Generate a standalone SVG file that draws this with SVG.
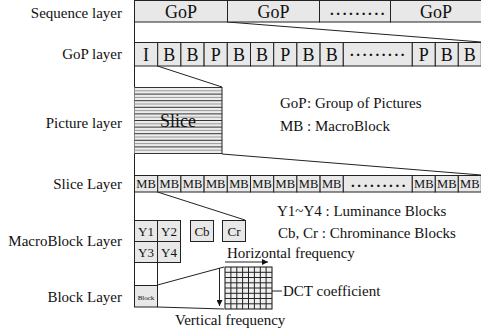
<svg xmlns="http://www.w3.org/2000/svg" width="481" height="336" viewBox="0 0 481 336">
<style>
text{font-family:"Liberation Serif","Times New Roman",serif;fill:#111}
.lbl{font-size:15px;text-anchor:end}
.leg{font-size:15px}
.cell{fill:#e8e8e8;stroke:#222;stroke-width:1}
.c{text-anchor:middle}
.ln{stroke:#222;stroke-width:1;fill:none}
.big{font-size:18px}
.g{font-size:18px}
.mb{font-size:12.5px}
.y{font-size:13px}
.dots{font-size:15px;font-weight:bold;letter-spacing:2.6px}
.stripe{stroke:#333;stroke-width:1}
.stripe2{stroke:#999;stroke-width:1}
</style>
<defs>
<marker id="ah" viewBox="0 0 6 6" refX="6" refY="3" markerWidth="6" markerHeight="6" orient="auto" markerUnits="userSpaceOnUse">
<path d="M0,0 L6,3 L0,6 z" fill="#111"/>
</marker>
</defs>

<g id="labels">
<text class="lbl" x="122" y="18">Sequence layer</text>
<text class="lbl" x="122" y="59">GoP layer</text>
<text class="lbl" x="122" y="128">Picture layer</text>
<text class="lbl" x="122" y="189">Slice Layer</text>
<text class="lbl" x="122" y="246">MacroBlock Layer</text>
<text class="lbl" x="122" y="302">Block Layer</text>
</g>

<g id="connectors">
<line class="ln" x1="134.5" y1="22" x2="134.5" y2="285"/>
<line class="ln" x1="227.5" y1="22" x2="481" y2="42"/>
<line class="ln" x1="157.5" y1="66" x2="222" y2="87"/>
<line class="ln" x1="222" y1="154" x2="481" y2="175"/>
<line class="ln" x1="157.5" y1="192" x2="245" y2="220"/>
<line class="ln" x1="157.5" y1="262" x2="157.5" y2="285"/>
<line class="ln" x1="157.5" y1="285" x2="224" y2="267"/>
<line class="ln" x1="157.5" y1="307" x2="224" y2="309"/>
<line class="ln" x1="225" y1="262" x2="268" y2="262" marker-end="url(#ah)"/>
<line class="ln" x1="219.5" y1="268" x2="219.5" y2="306" marker-end="url(#ah)"/>
<line class="ln" x1="257" y1="291" x2="282" y2="291"/>
<rect x="255.5" y="289.5" width="3" height="3" fill="#111"/>
</g>

<g id="sequence-layer">
<rect class="cell" x="134.5" y="0.5" width="93" height="21.5"/>
<rect class="cell" x="227.5" y="0.5" width="92" height="21.5"/>
<rect class="cell" x="319.5" y="0.5" width="71" height="21.5"/>
<rect class="cell" x="390.5" y="0.5" width="91" height="21.5"/>
<text class="big c" x="181" y="18">GoP</text>
<text class="big c" x="273.5" y="18">GoP</text>
<text class="dots" x="330" y="15">.........</text>
<text class="big c" x="436" y="18">GoP</text>
</g>

<g id="gop-layer">
<rect class="cell" x="134.5" y="42.5" width="23.2" height="23.5"/>
<rect class="cell" x="157.7" y="42.5" width="23.2" height="23.5"/>
<rect class="cell" x="180.9" y="42.5" width="23.2" height="23.5"/>
<rect class="cell" x="204.1" y="42.5" width="23.2" height="23.5"/>
<rect class="cell" x="227.3" y="42.5" width="23.2" height="23.5"/>
<rect class="cell" x="250.5" y="42.5" width="23.2" height="23.5"/>
<rect class="cell" x="273.7" y="42.5" width="23.2" height="23.5"/>
<rect class="cell" x="296.9" y="42.5" width="23.2" height="23.5"/>
<rect class="cell" x="320.1" y="42.5" width="23.2" height="23.5"/>
<rect class="cell" x="343.3" y="42.5" width="69" height="23.5"/>
<rect class="cell" x="412.3" y="42.5" width="23" height="23.5"/>
<rect class="cell" x="435.3" y="42.5" width="23" height="23.5"/>
<rect class="cell" x="458.3" y="42.5" width="23" height="23.5"/>
<g class="g c">
<text x="146.1" y="60.5">I</text>
<text x="169.3" y="60.5">B</text>
<text x="192.5" y="60.5">B</text>
<text x="215.7" y="60.5">P</text>
<text x="238.9" y="60.5">B</text>
<text x="262.1" y="60.5">B</text>
<text x="285.3" y="60.5">P</text>
<text x="308.5" y="60.5">B</text>
<text x="331.7" y="60.5">B</text>
<text x="423.8" y="60.5">P</text>
<text x="446.8" y="60.5">B</text>
<text x="469.8" y="60.5">B</text>
</g>
<text class="dots" x="350" y="56">.........</text>
</g>

<g id="picture-layer">
<rect x="134.5" y="87" width="87.5" height="67" fill="#ececec"/>
<g>
<line class="stripe" x1="134.5" y1="87.5" x2="222" y2="87.5"/>
<line class="stripe2" x1="134.5" y1="90.8" x2="222" y2="90.8"/>
<line class="stripe" x1="134.5" y1="94.1" x2="222" y2="94.1"/>
<line class="stripe2" x1="134.5" y1="97.4" x2="222" y2="97.4"/>
<line class="stripe" x1="134.5" y1="100.7" x2="222" y2="100.7"/>
<line class="stripe2" x1="134.5" y1="104" x2="222" y2="104"/>
<line class="stripe" x1="134.5" y1="107.3" x2="222" y2="107.3"/>
<line class="stripe2" x1="134.5" y1="110.6" x2="222" y2="110.6"/>
<line class="stripe" x1="134.5" y1="113.9" x2="222" y2="113.9"/>
<line class="stripe2" x1="134.5" y1="117.2" x2="222" y2="117.2"/>
<line class="stripe" x1="134.5" y1="120.5" x2="222" y2="120.5"/>
<line class="stripe2" x1="134.5" y1="123.8" x2="222" y2="123.8"/>
<line class="stripe" x1="134.5" y1="127.1" x2="222" y2="127.1"/>
<line class="stripe2" x1="134.5" y1="130.4" x2="222" y2="130.4"/>
<line class="stripe" x1="134.5" y1="133.7" x2="222" y2="133.7"/>
<line class="stripe2" x1="134.5" y1="137" x2="222" y2="137"/>
<line class="stripe" x1="134.5" y1="140.3" x2="222" y2="140.3"/>
<line class="stripe2" x1="134.5" y1="143.6" x2="222" y2="143.6"/>
<line class="stripe" x1="134.5" y1="146.9" x2="222" y2="146.9"/>
<line class="stripe2" x1="134.5" y1="150.2" x2="222" y2="150.2"/>
<line class="stripe" x1="134.5" y1="153.5" x2="222" y2="153.5"/>
</g>
<line class="ln" x1="222" y1="87" x2="222" y2="154"/>
<text class="c" x="178" y="127" font-size="18">Slice</text>
</g>

<g id="slice-layer">
<rect class="cell" x="134.5" y="175.5" width="23.2" height="16.5"/>
<rect class="cell" x="157.7" y="175.5" width="23.2" height="16.5"/>
<rect class="cell" x="180.9" y="175.5" width="23.2" height="16.5"/>
<rect class="cell" x="204.1" y="175.5" width="23.2" height="16.5"/>
<rect class="cell" x="227.3" y="175.5" width="23.2" height="16.5"/>
<rect class="cell" x="250.5" y="175.5" width="23.2" height="16.5"/>
<rect class="cell" x="273.7" y="175.5" width="23.2" height="16.5"/>
<rect class="cell" x="296.9" y="175.5" width="23.2" height="16.5"/>
<rect class="cell" x="320.1" y="175.5" width="23.2" height="16.5"/>
<rect class="cell" x="343.3" y="175.5" width="69" height="16.5"/>
<rect class="cell" x="412.3" y="175.5" width="23" height="16.5"/>
<rect class="cell" x="435.3" y="175.5" width="23" height="16.5"/>
<rect class="cell" x="458.3" y="175.5" width="23" height="16.5"/>
<g class="mb c">
<text x="146.1" y="188">MB</text>
<text x="169.3" y="188">MB</text>
<text x="192.5" y="188">MB</text>
<text x="215.7" y="188">MB</text>
<text x="238.9" y="188">MB</text>
<text x="262.1" y="188">MB</text>
<text x="285.3" y="188">MB</text>
<text x="308.5" y="188">MB</text>
<text x="331.7" y="188">MB</text>
<text x="423.8" y="188">MB</text>
<text x="446.8" y="188">MB</text>
<text x="469.8" y="188">MB</text>
</g>
<text class="dots" x="351" y="187">.........</text>
</g>

<g id="macroblock-layer">
<rect class="cell" x="134.5" y="220.5" width="23" height="21"/>
<rect class="cell" x="157.5" y="220.5" width="23" height="21"/>
<rect class="cell" x="134.5" y="241.5" width="23" height="21"/>
<rect class="cell" x="157.5" y="241.5" width="23" height="21"/>
<rect class="cell" x="190.5" y="220.5" width="23" height="21"/>
<rect class="cell" x="222.5" y="220.5" width="23" height="21"/>
<g class="y c">
<text x="146" y="235.5">Y1</text>
<text x="169" y="235.5">Y2</text>
<text x="146" y="256.5">Y3</text>
<text x="169" y="256.5">Y4</text>
<text x="202" y="235.5">Cb</text>
<text x="234" y="235.5">Cr</text>
</g>
</g>

<g id="block-layer">
<rect class="cell" x="134.5" y="285.5" width="23" height="21.5"/>
<text class="c" x="146" y="300" font-size="7">Block</text>
</g>

<g id="dct-grid">
<rect x="225" y="267" width="47" height="42" fill="#efefef" stroke="#111" stroke-width="1"/>
<path class="ln" d="M230.9,267V309M236.8,267V309M242.6,267V309M248.5,267V309M254.4,267V309M260.3,267V309M266.1,267V309M225,272.3H272M225,277.5H272M225,282.8H272M225,288H272M225,293.3H272M225,298.5H272M225,303.8H272"/>
</g>

<g id="legend">
<text class="leg" x="280" y="108">GoP</text><text class="leg" x="307" y="108">: Group of Pictures</text>
<text class="leg" x="280" y="131">MB</text><text class="leg" x="307" y="131">: MacroBlock</text>
<text class="leg" x="277" y="216">Y1~Y4 : Luminance Blocks</text>
<text class="leg" x="278" y="238">Cb, Cr : Chrominance Blocks</text>
<text class="leg" x="227" y="258">Horizontal frequency</text>
<text class="leg" x="283" y="296">DCT coefficient</text>
<text class="leg" x="175" y="325">Vertical frequency</text>
</g>
</svg>
